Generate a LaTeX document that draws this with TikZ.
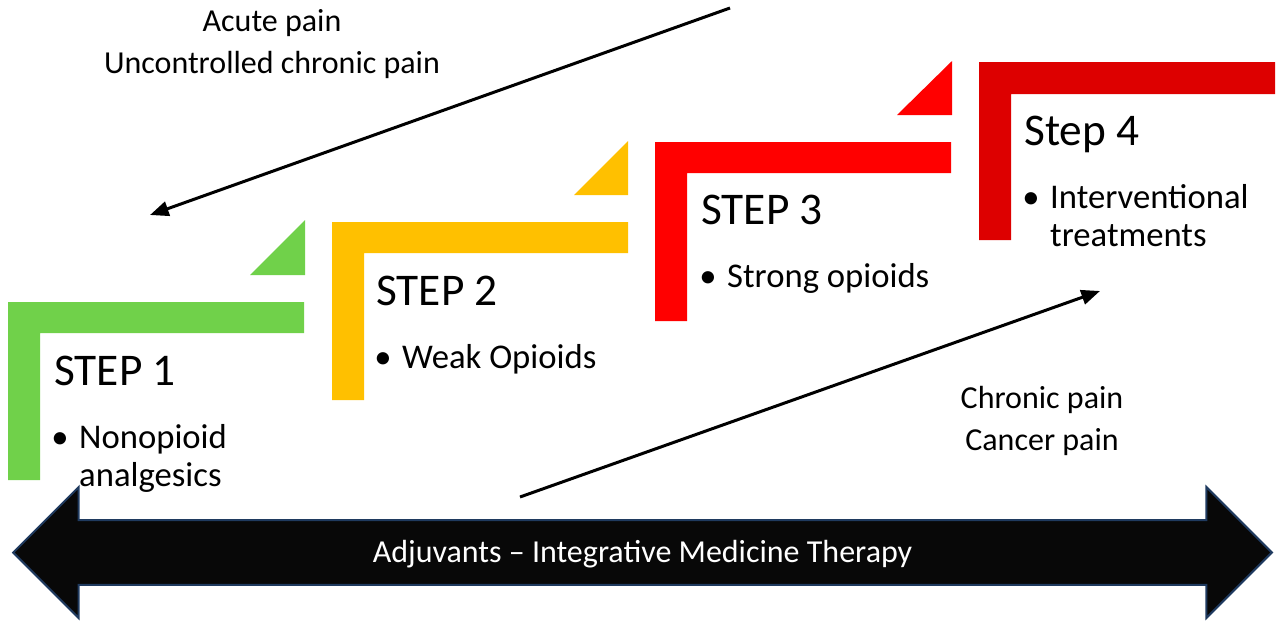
\documentclass[tikz,border=0pt]{standalone}
\usepackage{fontspec}
\setmainfont{Carlito}
\usepackage{tikz}
\usetikzlibrary{arrows.meta, shapes.arrows}
\definecolor{stepgreen}{HTML}{70D14A}
\definecolor{stepyellow}{HTML}{FFC000}
\definecolor{stepred}{HTML}{FF0000}
\definecolor{stepdark}{HTML}{DD0000}
\definecolor{adjfill}{HTML}{080808}
\definecolor{adjedge}{HTML}{1F3A5F}

\begin{document}
\begin{tikzpicture}[x=0.75pt, y=-0.75pt,
    steptitle/.style={anchor=base west, inner sep=0pt,
                      font=\fontsize{34}{40}\selectfont},
    stepitem/.style={anchor=base west, inner sep=0pt,
                     font=\fontsize{26}{28.5}\selectfont},
    painlabel/.style={align=center, inner sep=0pt,
                      font=\fontsize{24}{31}\selectfont},
    thinarr/.style={-{Triangle[length=14pt, width=11pt]}, line width=2.25pt},
    bigarrow/.style={double arrow, double arrow head extend=24.75pt,
                     minimum height=944pt, minimum width=96.75pt,
                     fill=adjfill, draw=adjedge, line width=1.5pt,
                     text=white, font=\fontsize{24}{28}\selectfont,
                     text height=18.5pt, text depth=3.5pt, inner ysep=12.6pt}
  ]
    \useasboundingbox (0,0) rectangle (1280,628);

    % step bars
    \fill[stepgreen] (8,302) -- (304,302) -- (304,333) -- (40,333) -- (40,480) -- (8,480) -- cycle;
    \fill[stepgreen] (250,275) -- (305,275) -- (305,220) -- cycle;
    \fill[stepyellow] (332,222) -- (628,222) -- (628,253) -- (364,253) -- (364,400) -- (332,400) -- cycle;
    \fill[stepyellow] (574,195) -- (628,195) -- (628,141) -- cycle;
    \fill[stepred] (655,142) -- (951,142) -- (951,173) -- (687,173) -- (687,321) -- (655,321) -- cycle;
    \fill[stepred] (897,115) -- (952,115) -- (952,61) -- cycle;
    \fill[stepdark] (979,62) -- (1275,62) -- (1275,94) -- (1011,94) -- (1011,240) -- (979,240) -- cycle;

    % step texts
    \node[steptitle] (s1) at (54,385) {STEP 1};
    \node[stepitem] (s1items) at (51,448) {\begin{tabular}[t]{@{}l@{\hspace{8pt}}l@{}}\textbullet & Nonopioid\\ & analgesics\end{tabular}};
    \node[steptitle] (s2) at (376,305) {STEP 2};
    \node[stepitem] (s2items) at (374,368) {\begin{tabular}[t]{@{}l@{\hspace{8pt}}l@{}}\textbullet & Weak Opioids\end{tabular}};
    \node[steptitle] (s3) at (701,224) {STEP 3};
    \node[stepitem] (s3items) at (699,287) {\begin{tabular}[t]{@{}l@{\hspace{8pt}}l@{}}\textbullet & Strong opioids\end{tabular}};
    \node[steptitle] (s4) at (1024,145) {Step 4};
    \node[stepitem] (s4items) at (1022,208) {\begin{tabular}[t]{@{}l@{\hspace{8pt}}l@{}}\textbullet & Interventional\\ & treatments\end{tabular}};

    % pain labels and arrows
    \node[painlabel] (acute) at (272,44) {Acute pain\\Uncontrolled chronic pain};
    \node[painlabel] (chronic) at (1042,421) {Chronic pain\\Cancer pain};
    \coordinate (acuteFrom) at (730,8);
    \coordinate (acuteTo) at (150,215);
    \coordinate (chronicFrom) at (520,497);
    \coordinate (chronicTo) at (1100,291);
    \draw[thinarr] (acuteFrom) -- (acuteTo);
    \draw[thinarr] (chronicFrom) -- (chronicTo);

    % adjuvants
    \node[bigarrow] (adjuvants) at (642.5,552.5) {Adjuvants -- Integrative Medicine Therapy};
\end{tikzpicture}
\end{document}
